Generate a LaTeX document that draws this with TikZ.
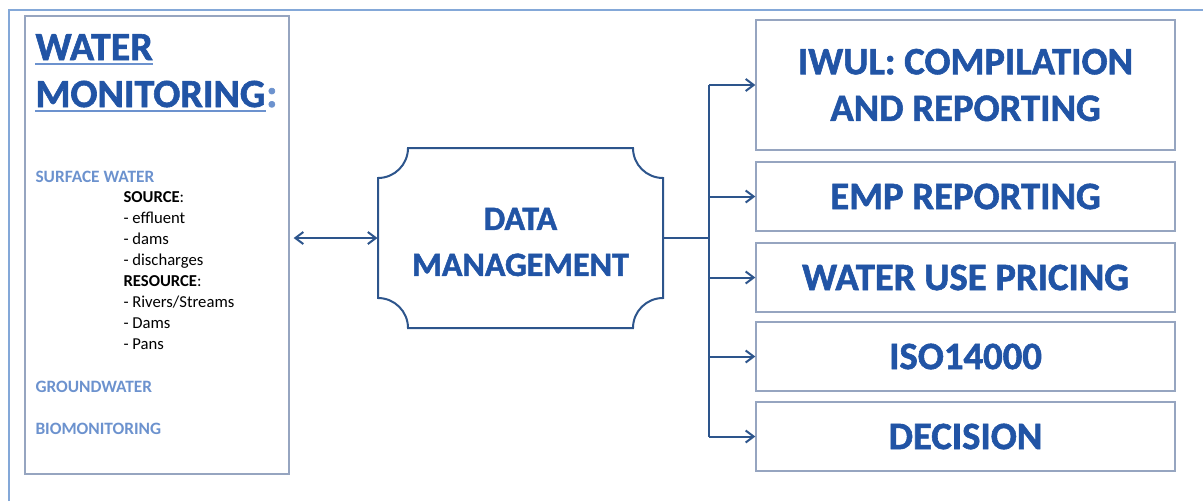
\documentclass[tikz,border=0pt]{standalone}
\usepackage{fontspec}
\setmainfont{Carlito}
\newfontfamily\heavy{Carlito}[BoldFeatures={FakeBold=1.5}]
\usetikzlibrary{arrows.meta,calc}

\definecolor{dmblue}{RGB}{33,84,165}
\definecolor{lightblue}{RGB}{108,146,206}
\definecolor{frameblue}{RGB}{132,168,216}
\definecolor{boxgray}{RGB}{150,165,192}
\definecolor{linkblue}{RGB}{45,85,140}

\tikzset{every picture/.style={line width=0.75pt}}

\begin{document}
\begin{tikzpicture}[x=0.75pt,y=0.75pt,yscale=-1,xscale=1,
  rbox/.style={draw=boxgray,line width=1pt,minimum width=314.25pt,text=dmblue,
    font=\heavy\bfseries\fontsize{29}{35}\selectfont,align=center,inner sep=0pt},
  head/.style={text=dmblue,font=\heavy\bfseries\fontsize{30}{35}\selectfont,inner sep=0pt,anchor=base west},
  sub/.style={text=lightblue,font=\bfseries\fontsize{13}{15}\selectfont,inner sep=0pt,anchor=base west},
  item/.style={text=black,font=\fontsize{12.5}{15}\selectfont,inner sep=0pt,anchor=base west},
  uline/.style={draw=lightblue,line width=2pt},
  link/.style={draw=linkblue,line width=1.5pt},
  tip/.style={-{Straight Barb[length=6pt,width=9pt]}}]
\useasboundingbox (0,0) rectangle (1203,501);

%Outer frame (cut at the right and bottom)
\draw [frameblue,line width=1.5pt] (9,501) -- (9,10) -- (1203,10) ;

%Left box: water monitoring
\node [draw=boxgray,line width=1pt,minimum width=198pt,minimum height=343.5pt] (lbox) at (157,245) {};
\node [head] (wtitle) at (35,60) {WATER};
\node [head] (mtitle) at (35,107) {MONITORING};
\node [head,text=lightblue] (mcolon) at (mtitle.base east) {:};
\draw [uline] ($(wtitle.base west)+(0,4)$) -- ($(wtitle.base east)+(0,4)$) ;
\draw [uline] ($(mtitle.base west)+(0,4)$) -- ($(mtitle.base east)+(0,4)$) ;

\node [sub] (surf) at (35,182) {SURFACE WATER};
\foreach \t [count=\i] in {{\textbf{SOURCE}:},- effluent,- dams,- discharges,{\textbf{RESOURCE}:},- Rivers/Streams,- Dams,- Pans}
  \node [item] (it\i) at (123,181+21*\i) {\t};
\node [sub] (ground) at (35,392) {GROUNDWATER};
\node [sub] (bio) at (35,434) {BIOMONITORING};

%Data management: box with concave corners
\node [minimum width=213.75pt,minimum height=135pt] (dm) at (520.5,238) {};
\node [text=dmblue,font=\heavy\bfseries\fontsize{25.5}{34.5}\selectfont,align=center] (dmtext) at (520.5,242) {DATA\\MANAGEMENT};
\draw [link] (408,148) -- (633,148) arc[start angle=180,end angle=90,radius=30]
  -- (663,298) arc[start angle=270,end angle=180,radius=30]
  -- (408,328) arc[start angle=0,end angle=-90,radius=30]
  -- (378,178) arc[start angle=90,end angle=0,radius=30] -- cycle ;

%Right boxes
\node [rbox,minimum height=97.5pt] (r1) at (965.5,85) {IWUL: COMPILATION\\AND REPORTING};
\node [rbox,minimum height=51.75pt] (r2) at (965.5,196.5) {EMP REPORTING};
\node [rbox,minimum height=51.75pt] (r3) at (965.5,277.5) {WATER USE PRICING};
\node [rbox,minimum height=51.75pt] (r4) at (965.5,356.5) {ISO14000};
\node [rbox,minimum height=51.75pt] (r5) at (965.5,436.5) {DECISION};

%Connectors
\draw [link,{Straight Barb[length=6pt,width=9pt]}-{Straight Barb[length=6pt,width=9pt]},shorten <=3pt] (lbox.east |- dm.west) -- (dm.west) ;
\coordinate (bus) at (709,238);
\draw [link] (dm.east) -- (bus) ;
\draw [link] (bus |- r1.west) -- (bus |- r5.west) ;
\foreach \n in {1,...,5}
  \draw [link,tip] (bus |- r\n.west) -- (r\n.west) ;

\end{tikzpicture}
\end{document}
